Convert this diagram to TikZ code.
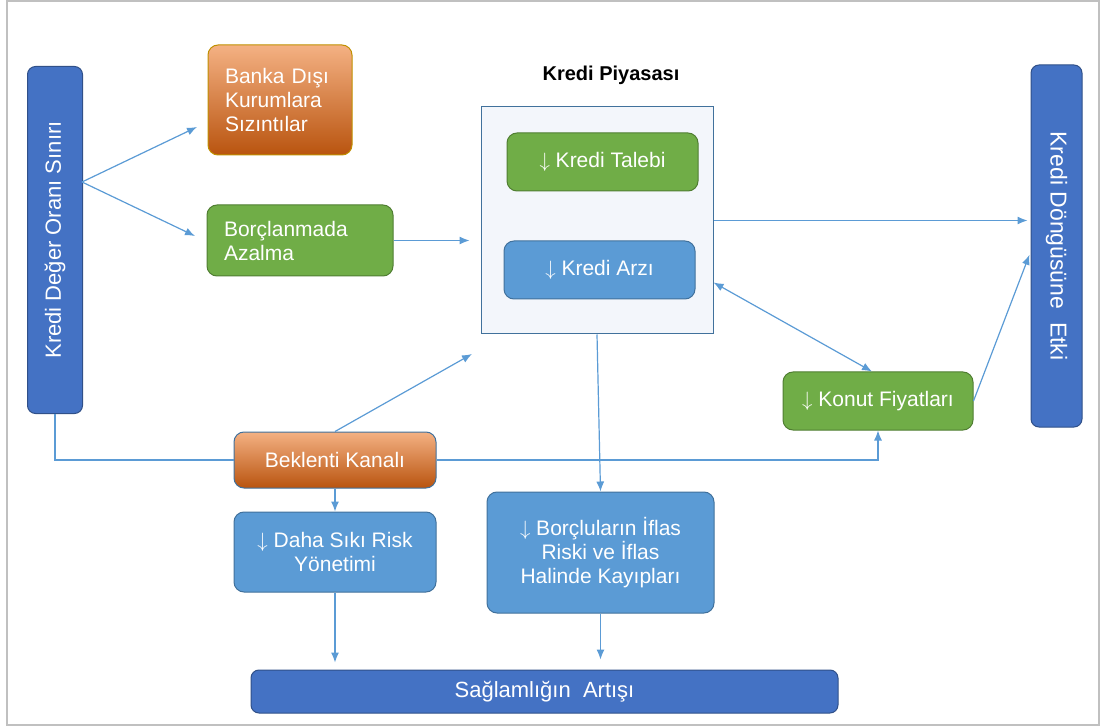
\documentclass[tikz,border=0pt]{standalone}
\usepackage{fontspec}
\setmainfont{Liberation Sans}
\usetikzlibrary{arrows.meta}
\definecolor{mydarkblue}{HTML}{4472C4}
\definecolor{mylightblue}{HTML}{5B9BD5}
\definecolor{myblueedge}{HTML}{41719C}
\definecolor{mygreen}{HTML}{70AD47}
\definecolor{mygreenedge}{HTML}{507E32}
\definecolor{myorange}{HTML}{ED7D31}
\definecolor{myorangetop}{HTML}{F4B183}
\definecolor{myorangebot}{HTML}{B9540F}
\definecolor{mygold}{HTML}{C09000}
\definecolor{mypanel}{HTML}{F3F6FB}
\definecolor{myframe}{HTML}{C0C0C0}
\tikzset{
  >=latex, % default arrow head
  box/.style={rounded corners=10pt,text=white,font=\fontsize{21}{24}\selectfont,inner sep=0pt,align=center,line width=1pt},
  box green/.style={box,fill=mygreen,draw=mygreenedge},
  box blue/.style={box,fill=mylightblue,draw=myblueedge},
  box orange/.style={box,top color=myorangetop,middle color=myorange,bottom color=myorangebot},
  bar/.style={box,fill=mydarkblue,draw=mydarkblue!70!black,rounded corners=8pt},
  panel/.style={fill=mypanel,draw=myblueedge,line width=1pt},
  connect/.style={line width=1.2pt,mylightblue},
  connect arrow/.style={connect,-{Latex[length=10pt,width=8pt]}},
  connect both/.style={connect,{Latex[length=10pt,width=8pt]}-{Latex[length=10pt,width=8pt]}}
}
\begin{document}
\begin{tikzpicture}[x=1pt,y=-1pt]
    \useasboundingbox (0,0) rectangle (1101,727);
    \draw[myframe,line width=1.5pt] (7,1) rectangle (1099,725);

    \node[bar,font=\fontsize{22}{24}\selectfont,minimum width=55pt,minimum height=347pt] (kdor) at (55,240) {\rotatebox{90}{Kredi Değer Oranı Sınırı}};
    \node[box orange,draw=mygold,minimum width=144pt,minimum height=110pt,text width=110pt,inner xsep=17pt,align=left] (leak) at (280,100) {Banka Dışı\\Kurumlara\\Sızıntılar};
    \node[box green,minimum width=186pt,minimum height=71pt,text width=152pt,inner xsep=17pt,align=left] (borrow) at (300,240.5) {Borçlanmada\\Azalma};

    \node[font=\bfseries\fontsize{20}{24}\selectfont] (title) at (611,75) {Kredi Piyasası};
    \node[panel,minimum width=232pt,minimum height=227pt] (market) at (597,220.5) {};
    \node[box green,minimum width=191pt,minimum height=58pt] (demand) at (602.5,162) {$\downarrow$ Kredi Talebi};
    \node[box blue,minimum width=191pt,minimum height=58pt] (supply) at (599.5,270) {$\downarrow$ Kredi Arzı};

    \node[bar,font=\fontsize{23}{24}\selectfont,minimum width=51pt,minimum height=362pt] (cycle) at (1056.5,246) {\rotatebox{-90}{Kredi Döngüsüne\ \ Etki}};
    \node[box green,minimum width=190pt,minimum height=58pt] (house) at (878,401) {$\downarrow$ Konut Fiyatları};

    \node[box orange,draw=myblueedge,minimum width=202pt,minimum height=56pt] (expect) at (335,460) {Beklenti Kanalı};
    \node[box blue,minimum width=202pt,minimum height=80pt] (risk) at (335,552) {$\downarrow$ Daha Sıkı Risk\\Yönetimi};
    \node[box blue,minimum width=227pt,minimum height=121pt] (default) at (600.5,552.5) {$\downarrow$ Borçluların İflas\\Riski ve İflas\\Halinde Kayıpları};
    \node[bar,font=\fontsize{22}{24}\selectfont,minimum width=587pt,minimum height=43pt] (robust) at (544.5,691.5) {Sağlamlığın\ \ Artışı};

    \coordinate (split) at (82,182);
    \coordinate (leak in) at (197,127);
    \coordinate (borrow in) at (195,236);
    \coordinate (market in) at (472,354);

    \draw[connect arrow] (split) -- (leak in);
    \draw[connect arrow] (split) -- (borrow in);
    \draw[connect arrow,shorten >=11pt] (borrow.east) -- (borrow.east -| market.west);
    \draw[connect arrow,shorten >=3pt] (market.east) -- (market.east -| cycle.west);
    \draw[connect both] (market.-28.3) -- ([xshift=-6pt]house.north);
    \draw[connect arrow,shorten >=3pt] (house.east) -- ([yshift=-6pt]cycle.west);
    \draw[connect arrow] (expect.north) -- (market in);
    \draw[connect arrow] (market.south) -- (default.north);
    \draw[connect] (kdor.south) |- (expect.west);
    \draw[connect arrow] (expect.east) -| (house.south);
    \draw[connect arrow] (expect.south) -- (risk.north);
    \draw[connect arrow,shorten >=7pt] (risk.south) -- (risk.south |- robust.north);
    \draw[connect arrow,shorten >=10pt] (default.south) -- (default.south |- robust.north);
\end{tikzpicture}
\end{document}
